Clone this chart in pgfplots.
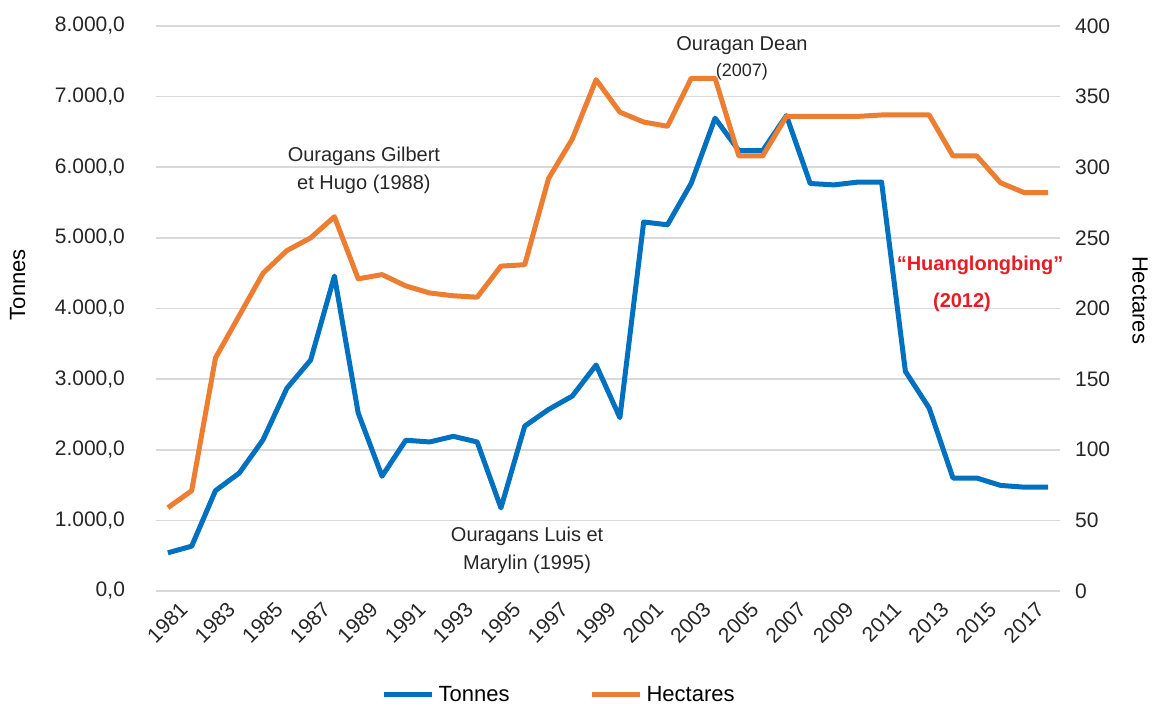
\documentclass[border=0pt]{standalone}
\usepackage{fontspec}
\setmainfont{Liberation Sans}
\usepackage{pgfplots}
\pgfplotsset{compat=1.18}
\definecolor{cblue}{RGB}{0,112,192}
\definecolor{corange}{RGB}{237,125,49}
\definecolor{cred}{RGB}{232,28,36}
\definecolor{cgrid}{RGB}{217,217,217}

\pgfplotstableread{
year tonnes
1981 541
1982 635
1983 1421
1984 1670
1985 2141
1986 2870
1987 3270
1988 4460
1989 2520
1990 1625
1991 2135
1992 2110
1993 2190
1994 2110
1995 1176
1996 2335
1997 2570
1998 2760
1999 3200
2000 2455
2001 5225
2002 5185
2003 5775
2004 6695
2005 6235
2006 6235
2007 6730
2008 5770
2009 5750
2010 5790
2011 5790
2012 3110
2013 2590
2014 1600
2015 1600
2016 1495
2017 1470
2018 1470
}\tonnes

\pgfplotstableread{
year hectares
1981 59
1982 71
1983 165
1984 195
1985 225
1986 241
1987 250
1988 265
1989 221
1990 224
1991 216
1992 211
1993 209
1994 208
1995 230
1996 231
1997 292
1998 320
1999 362
2000 339
2001 332
2002 329
2003 363
2004 363
2005 308
2006 308
2007 336
2008 336
2009 336
2010 336
2011 337
2012 337
2013 337
2014 308
2015 308
2016 289
2017 282
2018 282
}\hectares

\begin{document}
\begin{tikzpicture}
\useasboundingbox (-78pt,-57.5pt) rectangle (499pt,295.5pt);
\pgfplotsset{
  common/.style={
    scale only axis, width=452pt, height=282.5pt,
    xmin=1980.5, xmax=2018.5,
    axis line style={draw=none},
    major tick length=0pt,
    clip=false,
    /pgf/number format/assume math mode=true,
    tick label style={font=\fontsize{10.5}{12}\selectfont, color=black!85},
  },
}
\begin{axis}[
  common,
  ymin=0, ymax=8000,
  ytick={0,1000,...,8000},
  ymajorgrids, grid style={line width=0.8pt, color=cgrid},
  xtick={1981,1983,...,2017},
  xticklabels={1981,1983,1985,1987,1989,1991,1993,1995,1997,1999,2001,2003,2005,2007,2009,2011,2013,2015,2017},
  x tick label style={rotate=45, anchor=north east, font=\fontsize{10.5}{11}\selectfont, inner sep=1pt, xshift=1.5pt, yshift=-6pt},
  yticklabel={\pgfmathprintnumber[fixed,fixed zerofill,precision=1,use comma,1000 sep={.},assume math mode=true]{\tick}},
  y tick label style={xshift=-12pt},
  ylabel={Tonnes},
  every axis y label/.style={at={(axis description cs:-0.153,0.542)}, rotate=90, anchor=center, font=\fontsize{11}{12}\selectfont},
]
\addplot[color=cblue, line width=2.5pt, line join=round] table[x=year, y=tonnes] {\tonnes};
\node[align=center, font=\fontsize{10}{14}\selectfont, color=black!85] at (axis cs:1989.24,5961) {Ouragans Gilbert\\et Hugo (1988)};
\node[align=center, font=\fontsize{10}{14}\selectfont, color=black!85] at (axis cs:1996.1,580) {Ouragans Luis et\\Marylin (1995)};
\node[align=center, font=\fontsize{10}{13}\selectfont, color=black!85] at (axis cs:2005.13,7547) {Ouragan Dean\\{\fontsize{9}{10}\selectfont(2007)}};
\node[font=\bfseries\fontsize{10}{12}\selectfont, color=cred] at (axis cs:2015.14,4616) {“Huanglongbing”};
\node[font=\bfseries\fontsize{10}{12}\selectfont, color=cred] at (axis cs:2014.38,4092) {(2012)};
\end{axis}
\begin{axis}[
  common,
  ymin=0, ymax=400,
  ytick={0,50,...,400},
  xtick=\empty,
  yticklabel pos=right,
  yticklabel={\pgfmathprintnumber[assume math mode=true]{\tick}},
  y tick label style={xshift=4pt},
  ylabel={Hectares},
  every axis y label/.style={at={(axis description cs:1.0885,0.515)}, rotate=-90, anchor=center, font=\fontsize{11}{12}\selectfont},
  legend style={at={(axis description cs:0.447,-0.184)}, anchor=center, draw=none, fill=none,
    legend columns=2, font=\fontsize{11}{12}\selectfont,
    /tikz/every even column/.append style={column sep=38pt}},
  legend image code/.code={\draw[#1, line width=2.5pt] (0pt,0pt) -- (24pt,0pt);},
]
\addlegendimage{color=cblue}
\addlegendentry{Tonnes}
\addplot[color=corange, line width=2.5pt, line join=round] table[x=year, y=hectares] {\hectares};
\addlegendentry{Hectares}
\end{axis}
\end{tikzpicture}
\end{document}
